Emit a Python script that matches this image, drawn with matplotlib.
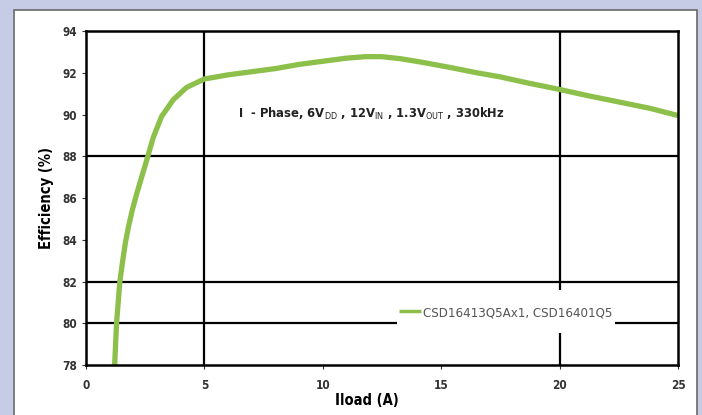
import matplotlib.pyplot as plt
from matplotlib.patches import Rectangle

# efficiency curve
iload = [1.21, 1.29, 1.43, 1.55, 1.67, 1.79, 1.95, 2.14, 2.56, 2.84, 3.19, 3.68, 4.25, 5.0, 6.0, 7.0,
         8.0, 9.0, 10.0, 11.0, 11.8, 12.5, 13.3, 14.2, 15.3, 16.5, 17.5, 18.7, 20.0,
         21.2, 22.5, 23.8, 25.0]
eff = [78.0, 80.0, 82.0, 83.0, 83.9, 84.6, 85.4, 86.2, 87.8, 88.9, 89.9, 90.7, 91.3, 91.7, 91.9, 92.05,
       92.2, 92.4, 92.55, 92.7, 92.77, 92.77, 92.67, 92.5, 92.27, 92.0, 91.8, 91.5, 91.2,
       90.9, 90.6, 90.3, 89.95]
series_name = "CSD16413Q5Ax1, CSD16401Q5"
xticks = [0, 5, 10, 15, 20, 25]
yticks = [78, 80, 82, 84, 86, 88, 90, 92, 94]
grid_x = [5, 20]
grid_y = [80, 82, 88]

plt.rcParams['font.family'] = ['DejaVu Sans']
plt.rcParams['font.stretch'] = 'condensed'

fig = plt.figure(figsize=(7.02, 4.15), dpi=100)
fig.patch.set_facecolor('#c7cce6')
panel = Rectangle((14 / 702, -0.05), 683 / 702, 1.05 - 10 / 415,
                  transform=fig.transFigure, facecolor='white',
                  edgecolor='#6a6a6a', linewidth=1.2, zorder=-5)
fig.add_artist(panel)

ax = fig.add_axes([86 / 702, 1 - 365 / 415, 592 / 702, 334 / 415])
ax.set_zorder(2)
ax.set_facecolor('white')

for gx in grid_x:
    ax.axvline(gx, color='black', lw=1.6, zorder=1)
for gy in grid_y:
    ax.axhline(gy, color='black', lw=1.6, zorder=1)

ax.plot(iload, eff, color='#8cc04a', lw=3.8, solid_capstyle='butt',
        solid_joinstyle='round', zorder=2, label=series_name)

ax.set_xlim(0, 25)
ax.set_ylim(78, 94)
ax.set_xticks(xticks)
ax.set_yticks(yticks)
ax.tick_params(labelsize=8.5, length=3, width=0.8, colors='#333333')
ax.tick_params(axis='x', pad=7)
for lbl in ax.get_xticklabels() + ax.get_yticklabels():
    lbl.set_fontweight('bold')
for s in ax.spines.values():
    s.set_linewidth(1.8)

ax.set_xlabel("Iload (A)", fontsize=10.5, fontweight='bold')
ax.xaxis.set_label_coords(0.475, -0.085)
ax.set_ylabel("Efficiency (%)", fontsize=10.5, fontweight='bold', labelpad=6)

ax.text(6.4, 90.05, r"I  - Phase, 6V$_{\mathrm{DD}}$ , 12V$_{\mathrm{IN}}$ , 1.3V$_{\mathrm{OUT}}$ , 330kHz",
        fontsize=9.3, fontweight='bold', ha='left', va='center', color='#222222')

# white backing of the legend that breaks the grid lines
ax.add_patch(Rectangle((0.525, 0.096), 0.369, 0.128, transform=ax.transAxes,
                       facecolor='white', edgecolor='none', zorder=1.5))

leg = ax.legend(loc='center left', bbox_to_anchor=(0.525, 0.157), frameon=False,
                fontsize=9.5, handlelength=1.6, handletextpad=0.2,
                borderpad=0.2, borderaxespad=0)
leg.get_lines()[0].set_linewidth(2.5)
for t in leg.get_texts():
    t.set_color('#555555')

fig.savefig('out.png', dpi=100)
